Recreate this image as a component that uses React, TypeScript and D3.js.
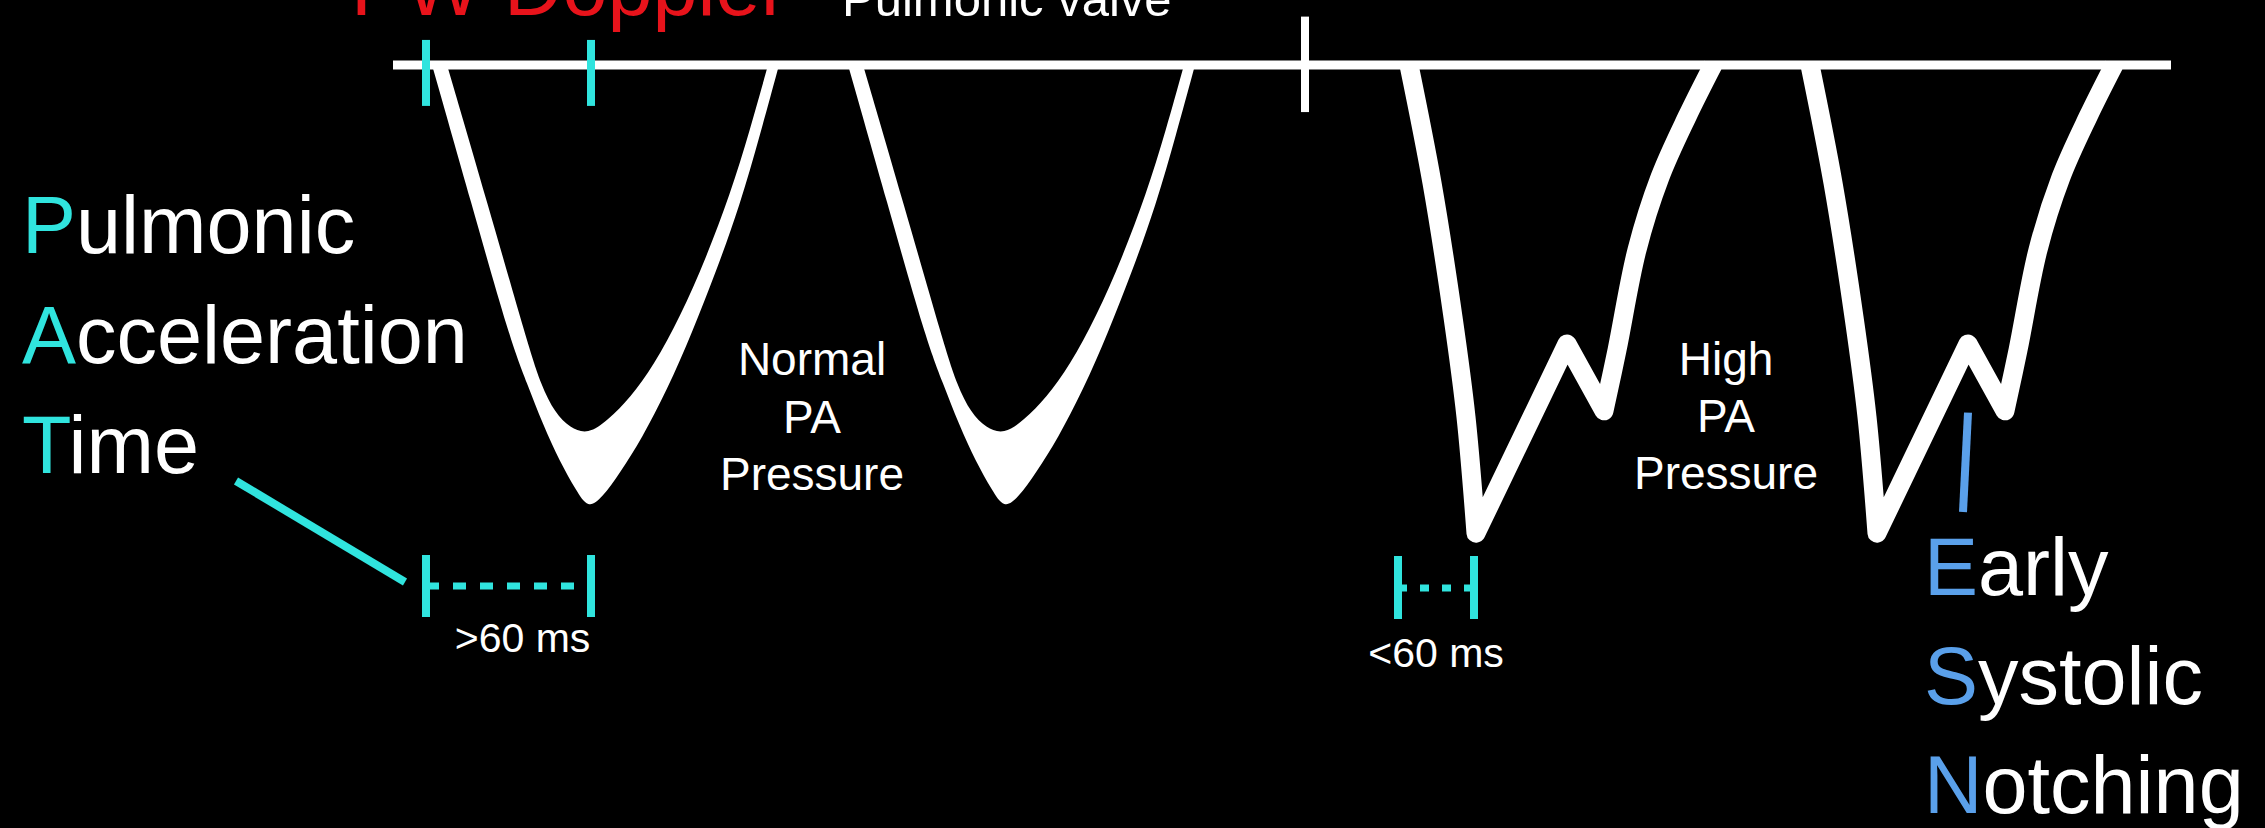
import React from 'react';
import * as d3 from 'd3';

const W = 2265;
const H = 828;

// time axis (ms) and velocity axis (cm/s, drawn downward)
const timeDomain = [0, 889];
const velocityDomain = [0, 100];

const normalBeatOnsets = [19.5, 227.5];
const highBeatOnsets = [508, 708.5];

// normal PA pressure envelope (outer and inner contour of the spectral trace)
const normalOuterT = [0, 19.5, 39, 47.5, 55.5, 64, 72, 78, 85, 94, 105, 117.5, 130, 142, 154, 164, 173.5];
const normalOuterV = [0, 31.1, 62.5, 72.3, 81.8, 90.2, 96.6, 100.9, 98.4, 92.7, 84.8, 73.9, 60.9, 47, 31.8, 15.9, 0];
const normalInnerT = [168, 159, 149, 137, 124, 111, 99, 88, 78, 69, 61.5, 54.5, 48, 28, 7.5];
const normalInnerV = [0, 14.8, 29.5, 43.9, 57.3, 68.2, 75.7, 80.7, 84, 82.5, 79.1, 72.7, 63.6, 31.8, 0];

// high PA pressure trace (with mid-systolic notch)
const highArmDownT = [0, 11.5, 22, 28.5, 33.5];
const highArmDownV = [0, 26.8, 57.3, 80, 106.4];
const highNotchT = [33.5, 79, 97.5];
const highNotchV = [106.4, 63.4, 78.6];
const highArmUpT = [97.5, 104, 114, 125.5, 139, 152];
const highArmUpV = [78.6, 64.8, 42, 25.5, 11.8, 0];

const patNormal = [16.5, 99];
const patHigh = [502.5, 540.5];
const patTickV = [-5.7, 9.3];
const dividerT = 456;
const dividerV = [-11, 10.7];
const esnMarkerT = [787.5, 785];
const esnMarkerV = [79, 101.6];

const patWords = [['P', 'ulmonic'], ['A', 'cceleration'], ['T', 'ime']];
const esnWords = [['E', 'arly'], ['S', 'ystolic'], ['N', 'otching']];
const normalLabel = ['Normal', 'PA', 'Pressure'];
const highLabel = ['High', 'PA', 'Pressure'];
const patNormalLabel = '>60 ms';
const patHighLabel = '<60 ms';
const titleText = 'PW Doppler';
const subtitleText = 'Pulmonic valve';

const CYAN = '#30e4de';
const BLUE = '#5aa0ea';
const RED = '#e8131b';
const FONT = "'Liberation Sans', Arial, Helvetica, sans-serif";

export default function App() {
  const x = d3.scaleLinear().domain(timeDomain).range([393, 2171]);
  const y = d3.scaleLinear().domain(velocityDomain).range([65, 505]);

  const basis = d3
    .line<[number, number]>()
    .x((d) => x(d[0]))
    .y((d) => y(d[1]))
    .curve(d3.curveBasis);
  const smooth = d3
    .line<[number, number]>()
    .x((d) => x(d[0]))
    .y((d) => y(d[1]))
    .curve(d3.curveCatmullRom.alpha(0.5));
  const straight = d3
    .line<[number, number]>()
    .x((d) => x(d[0]))
    .y((d) => y(d[1]));

  const pts = (ts: number[], vs: number[], t0: number): [number, number][] =>
    ts.map((t, i) => [t0 + t, vs[i]] as [number, number]);

  const normalPath = (t0: number) =>
    (basis(pts(normalOuterT, normalOuterV, t0)) || '') +
    (basis(pts(normalInnerT, normalInnerV, t0)) || '').replace(/^M/, 'L') +
    'Z';

  const highPath = (t0: number) =>
    (smooth(pts(highArmDownT, highArmDownV, t0)) || '') +
    (straight(pts(highNotchT, highNotchV, t0)) || '').replace(/^M/, 'L') +
    (smooth(pts(highArmUpT, highArmUpV, t0)) || '').replace(/^M/, 'L');

  const bracket = (
    ts: number[],
    yMid: number,
    yTop: number,
    yBot: number,
    dash: string,
    key: string
  ) => (
    <g key={key} stroke={CYAN} strokeWidth={8}>
      <line x1={x(ts[0])} x2={x(ts[1])} y1={yMid} y2={yMid} strokeWidth={7} strokeDasharray={dash} />
      <line x1={x(ts[0])} x2={x(ts[0])} y1={yTop} y2={yBot} />
      <line x1={x(ts[1])} x2={x(ts[1])} y1={yTop} y2={yBot} />
    </g>
  );

  return (
    <svg
      width={W}
      height={H}
      style={{ position: 'absolute', left: 0, top: 0, background: '#000', display: 'block' }}
      fontFamily={FONT}
    >
      <rect x={0} y={0} width={W} height={H} fill="#000" />

      {/* title (cut off at top) */}
      <text x={351} y={15} fontSize={81} fill={RED}>
        {titleText}
      </text>
      <text x={842} y={16} fontSize={49} fill="#fff">
        {subtitleText}
      </text>

      {/* normal waveforms */}
      {normalBeatOnsets.map((t0, i) => (
        <path key={'n' + i} d={normalPath(t0)} fill="#fff" />
      ))}

      {/* high PA waveforms */}
      {highBeatOnsets.map((t0, i) => (
        <path
          key={'h' + i}
          d={highPath(t0)}
          fill="none"
          stroke="#fff"
          strokeWidth={19}
          strokeLinejoin="round"
          strokeLinecap="butt"
        />
      ))}

      {/* baseline */}
      <line x1={x(timeDomain[0])} x2={x(timeDomain[1])} y1={y(0)} y2={y(0)} stroke="#fff" strokeWidth={9} />
      {/* divider */}
      <line x1={x(dividerT)} x2={x(dividerT)} y1={y(dividerV[0])} y2={y(dividerV[1])} stroke="#fff" strokeWidth={8} />

      {/* PAT ticks on baseline */}
      {patNormal.map((t, i) => (
        <line key={'pt' + i} x1={x(t)} x2={x(t)} y1={y(patTickV[0])} y2={y(patTickV[1])} stroke={CYAN} strokeWidth={8} />
      ))}

      {/* ESN marker */}
      <line
        x1={x(esnMarkerT[0])}
        x2={x(esnMarkerT[1])}
        y1={y(esnMarkerV[0])}
        y2={y(esnMarkerV[1])}
        stroke={BLUE}
        strokeWidth={8}
      />

      {/* PAT brackets */}
      {bracket(patNormal, 586, 555, 617, '13,14', 'bn')}
      {bracket(patHigh, 588, 556, 619, '9,13', 'bh')}
      <line x1={236} y1={481} x2={405} y2={582} stroke={CYAN} strokeWidth={8} />

      <text x={(x(patNormal[0]) + x(patNormal[1])) / 2 + 14} y={652} fontSize={41} fill="#fff" textAnchor="middle">
        {patNormalLabel}
      </text>
      <text x={(x(patHigh[0]) + x(patHigh[1])) / 2} y={667} fontSize={41} fill="#fff" textAnchor="middle">
        {patHighLabel}
      </text>

      {/* waveform labels */}
      {normalLabel.map((s, i) => (
        <text key={'nl' + i} x={812} y={375 + i * 57.5} fontSize={46} fill="#fff" textAnchor="middle">
          {s}
        </text>
      ))}
      {highLabel.map((s, i) => (
        <text key={'hl' + i} x={1726} y={375 + i * 57} fontSize={46} fill="#fff" textAnchor="middle">
          {s}
        </text>
      ))}

      {/* acronyms */}
      {patWords.map((w, i) => (
        <text key={'pw' + i} x={22} y={253 + i * 110} fontSize={81}>
          <tspan fill={CYAN}>{w[0]}</tspan>
          <tspan fill="#fff">{w[1]}</tspan>
        </text>
      ))}
      {esnWords.map((w, i) => (
        <text key={'ew' + i} x={1924} y={595 + i * 109} fontSize={81}>
          <tspan fill={BLUE}>{w[0]}</tspan>
          <tspan fill="#fff">{w[1]}</tspan>
        </text>
      ))}
    </svg>
  );
}
